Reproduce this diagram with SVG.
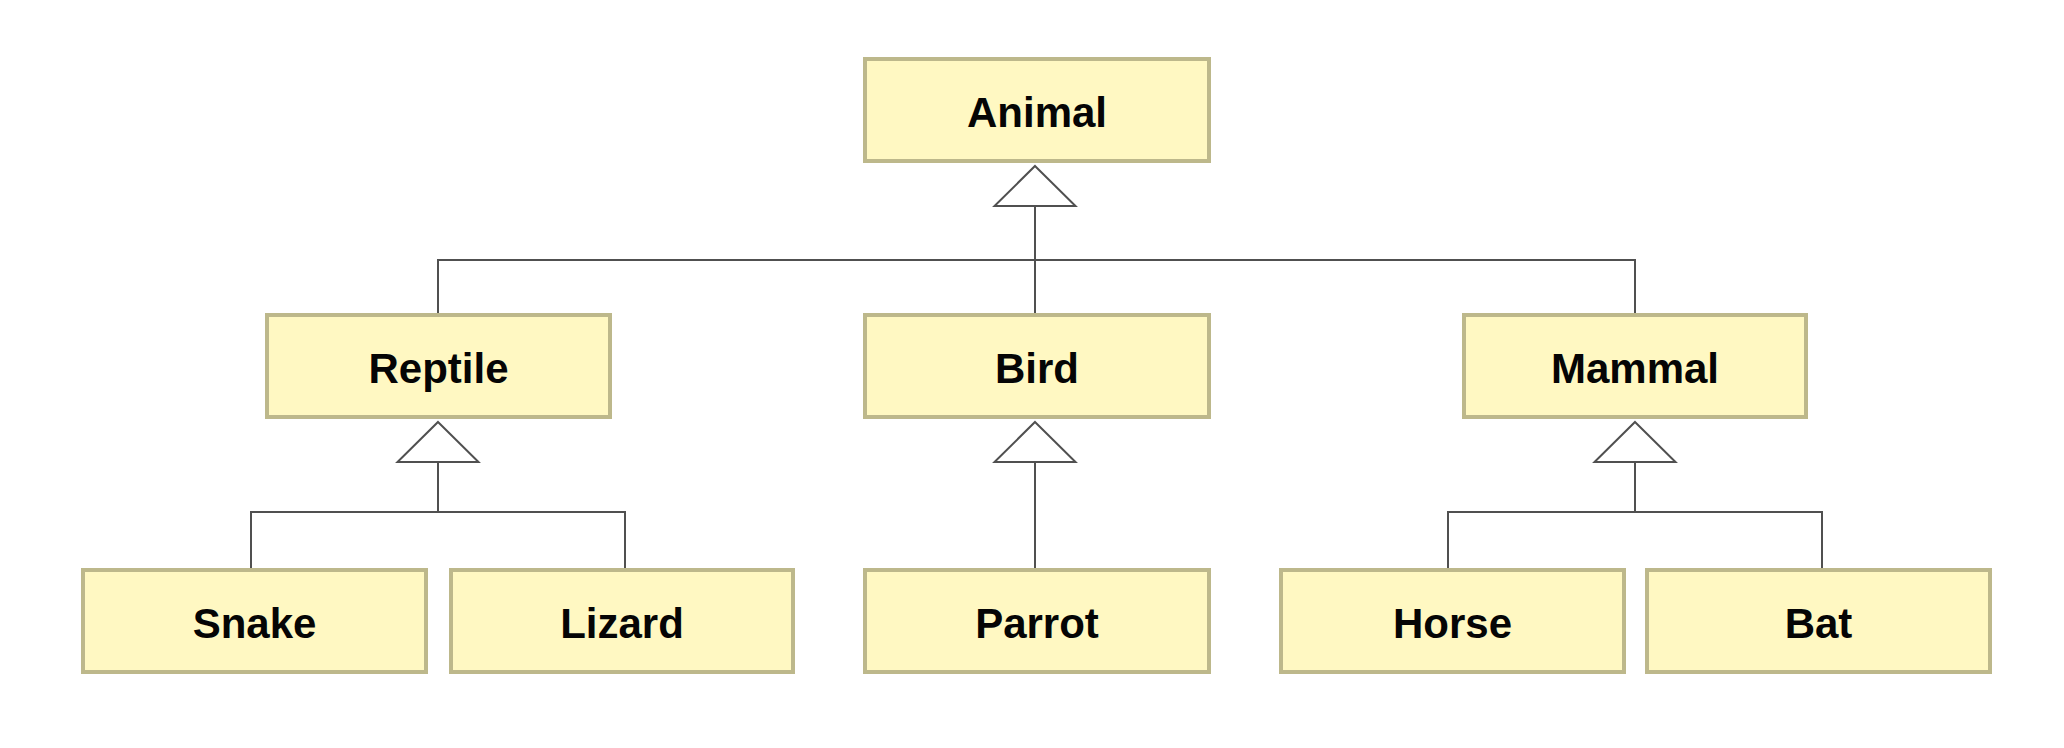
<svg xmlns="http://www.w3.org/2000/svg" xmlns:xlink="http://www.w3.org/1999/xlink" width="2064" height="748" viewBox="0 0 2064 748">
  <style>
    .box { fill: #fff8c2; stroke: #bdb88b; stroke-width: 4; }
    .lbl { font-family: "Liberation Sans", Arial, sans-serif; font-weight: bold; font-size: 42px; fill: #050505; text-anchor: middle; }
    .ln { fill: none; stroke: #505050; stroke-width: 2; }
    .tri { fill: #fff; stroke: #505050; stroke-width: 2; stroke-linejoin: miter; }
  </style>
  <defs>
    <polygon id="tri" class="tri" points="0,0 40.5,40 -40.5,40"/>
  </defs>
  <rect width="2064" height="748" fill="#fff"/>

  <g id="connectors">
    <!-- Animal -->
    <path class="ln" d="M1035,206 V313 M438,313 V260 H1635 V313"/>
    <use xlink:href="#tri" x="1035" y="166"/>
    <!-- Reptile -->
    <path class="ln" d="M438,462 V512 M251,568 V512 H625 V568"/>
    <use xlink:href="#tri" x="438" y="422"/>
    <!-- Bird -->
    <path class="ln" d="M1035,462 V568"/>
    <use xlink:href="#tri" x="1035" y="422"/>
    <!-- Mammal -->
    <path class="ln" d="M1635,462 V512 M1448,568 V512 H1822 V568"/>
    <use xlink:href="#tri" x="1635" y="422"/>
  </g>

  <g id="animal"><rect class="box" x="865" y="59" width="344" height="102"/><text class="lbl" x="1037" y="127">Animal</text></g>
  <g id="reptile"><rect class="box" x="267" y="315" width="343" height="102"/><text class="lbl" x="438.5" y="383">Reptile</text></g>
  <g id="bird"><rect class="box" x="865" y="315" width="344" height="102"/><text class="lbl" x="1037" y="383">Bird</text></g>
  <g id="mammal"><rect class="box" x="1464" y="315" width="342" height="102"/><text class="lbl" x="1635" y="383">Mammal</text></g>
  <g id="snake"><rect class="box" x="83" y="570" width="343" height="102"/><text class="lbl" x="254.5" y="638">Snake</text></g>
  <g id="lizard"><rect class="box" x="451" y="570" width="342" height="102"/><text class="lbl" x="622" y="638">Lizard</text></g>
  <g id="parrot"><rect class="box" x="865" y="570" width="344" height="102"/><text class="lbl" x="1037" y="638">Parrot</text></g>
  <g id="horse"><rect class="box" x="1281" y="570" width="343" height="102"/><text class="lbl" x="1452.5" y="638">Horse</text></g>
  <g id="bat"><rect class="box" x="1647" y="570" width="343" height="102"/><text class="lbl" x="1818.5" y="638">Bat</text></g>
</svg>
